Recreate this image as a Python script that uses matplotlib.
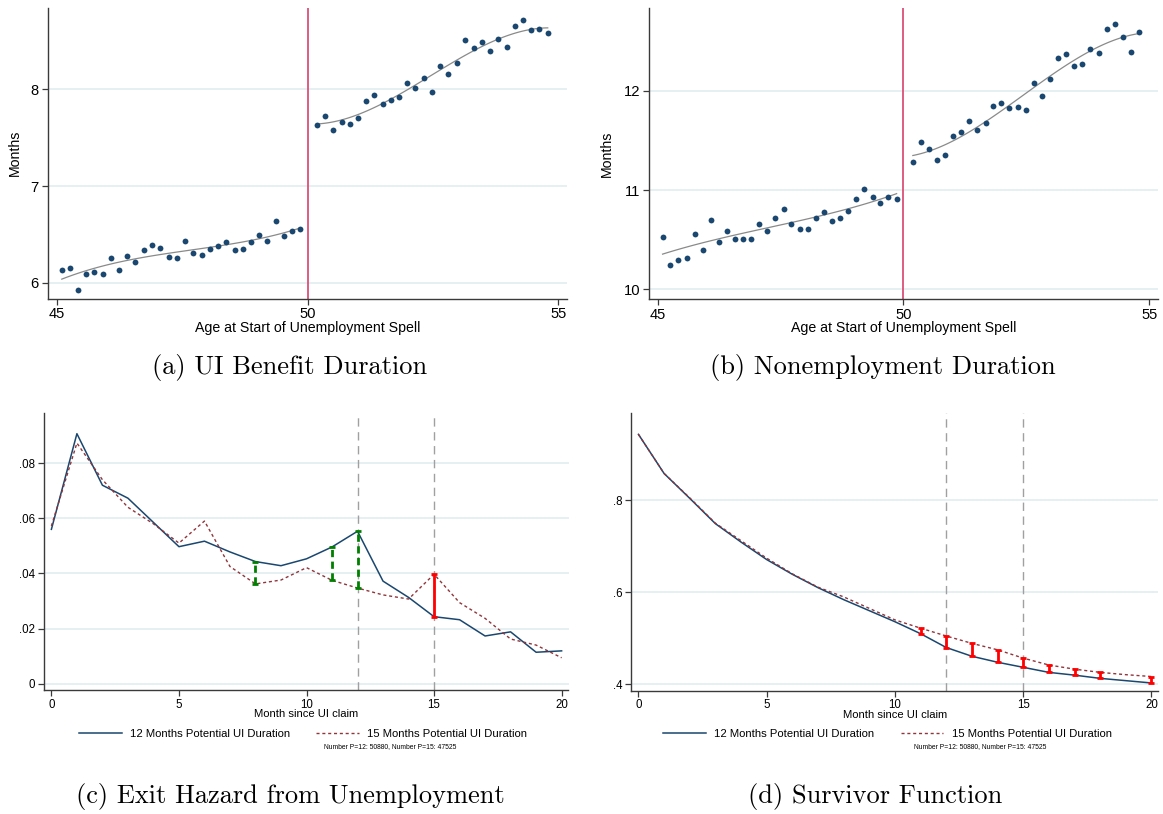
import numpy as np
import matplotlib

matplotlib.use("Agg")
import matplotlib.pyplot as plt
from matplotlib.ticker import FuncFormatter


plt.rcParams["font.family"] = ["Liberation Sans", "DejaVu Sans"]

# ---- panel (a)/(b): binned means by age at start of spell ----
age_left = [45.10, 45.26, 45.42, 45.59, 45.75, 45.92, 46.08, 46.24, 46.41, 46.57,
            46.74, 46.90, 47.06, 47.23, 47.39, 47.56, 47.72, 47.89, 48.05, 48.22,
            48.38, 48.55, 48.71, 48.87, 49.04, 49.20, 49.37, 49.53, 49.69, 49.86]
age_right = [50.19, 50.35, 50.51, 50.68, 50.85, 51.01, 51.17, 51.33, 51.50, 51.67,
             51.83, 51.99, 52.15, 52.32, 52.49, 52.65, 52.81, 52.98, 53.14, 53.31,
             53.47, 53.64, 53.80, 53.97, 54.13, 54.30, 54.46, 54.62, 54.79]

ui_left = [6.136, 6.154, 5.926, 6.088, 6.116, 6.095, 6.257, 6.130, 6.278, 6.219,
           6.336, 6.395, 6.364, 6.271, 6.260, 6.436, 6.309, 6.291, 6.350, 6.378,
           6.419, 6.340, 6.353, 6.426, 6.495, 6.436, 6.639, 6.484, 6.533, 6.553]
ui_right = [7.635, 7.728, 7.580, 7.659, 7.638, 7.700, 7.883, 7.941, 7.848, 7.893,
            7.917, 8.065, 8.014, 8.114, 7.972, 8.245, 8.155, 8.272, 8.510, 8.427,
            8.486, 8.396, 8.520, 8.441, 8.654, 8.713, 8.617, 8.623, 8.586]

nonemp_left = [10.524, 10.249, 10.292, 10.319, 10.555, 10.400, 10.696, 10.474, 10.592, 10.504,
               10.504, 10.511, 10.659, 10.592, 10.719, 10.813, 10.662, 10.605, 10.605, 10.719,
               10.776, 10.686, 10.716, 10.790, 10.911, 11.008, 10.934, 10.874, 10.928, 10.911]
nonemp_right = [11.284, 11.489, 11.412, 11.301, 11.351, 11.546, 11.590, 11.701, 11.610, 11.681,
                11.852, 11.876, 11.825, 11.842, 11.808, 12.084, 11.950, 12.124, 12.329, 12.370,
                12.249, 12.272, 12.427, 12.380, 12.622, 12.672, 12.541, 12.393, 12.595]

# ---- panel (c)/(d): by month since UI claim ----
months = list(range(21))
hazard_p12 = [0.0560, 0.0907, 0.0720, 0.0673, 0.0585, 0.0497, 0.0517, 0.0478, 0.0443, 0.0428,
              0.0453, 0.0496, 0.0553, 0.0372, 0.0313, 0.0243, 0.0232, 0.0173, 0.0188, 0.0114,
              0.0119]
hazard_p15 = [0.0572, 0.0873, 0.0740, 0.0640, 0.0580, 0.0510, 0.0590, 0.0425, 0.0362, 0.0376,
              0.0421, 0.0375, 0.0347, 0.0322, 0.0307, 0.0397, 0.0294, 0.0237, 0.0162, 0.0140,
              0.0094]
surv_p12 = [0.943, 0.858, 0.804, 0.749, 0.709, 0.671, 0.639, 0.610, 0.584, 0.560,
            0.536, 0.510, 0.480, 0.461, 0.448, 0.437, 0.426, 0.420, 0.413, 0.408,
            0.403]
surv_p15 = [0.943, 0.858, 0.805, 0.750, 0.712, 0.674, 0.640, 0.611, 0.590, 0.565,
            0.540, 0.522, 0.505, 0.489, 0.475, 0.457, 0.442, 0.433, 0.426, 0.421,
            0.417]
hazard_green_months = [8, 11, 12]
hazard_red_months = [15]
surv_bar_months = [11, 12, 13, 14, 15, 16, 17, 18, 20]
cutoff_months = [12, 15]

NAVY = "#1a476f"
MAROON = "#90353b"
GRID = "#e4eef0"
AXC = "#3a3a3a"
W, H = 1163, 814


def px_axes(fig, left, right, top, bottom):
    return fig.add_axes([left / W, 1 - bottom / H, (right - left) / W, (bottom - top) / H])


def style(ax, fs):
    for s in ["top", "right"]:
        ax.spines[s].set_visible(False)
    for s in ["left", "bottom"]:
        ax.spines[s].set_color(AXC)
        ax.spines[s].set_linewidth(1.0)
    ax.tick_params(direction="out", length=4.3, width=0.9, color=AXC, labelsize=fs, pad=2)
    ax.grid(axis="y", color=GRID, lw=1.3)
    ax.set_axisbelow(True)


def rd_panel(fig, box, xl, yl, yr, ylim, yticks, ylab_x):
    ax = px_axes(fig, *box)
    style(ax, 10.6)
    for xs, ys in [(xl, yl), (age_right, yr)]:
        xs = np.array(xs)
        coef = np.polyfit(xs, ys, 3)
        xx = np.linspace(xs.min(), xs.max(), 120)
        ax.plot(xx, np.polyval(coef, xx), color="#8a8a8a", lw=0.9, zorder=2)
        ax.plot(xs, ys, "o", color=NAVY, ms=4.2, mew=0, zorder=3)
    ax.axvline(50, color="#dc4f78", lw=1.3, zorder=1)
    ax.set_xlim(44.82, 55.18)
    ax.set_ylim(*ylim)
    ax.set_xticks([45, 50, 55])
    ax.set_yticks(yticks)
    ax.set_xlabel("Age at Start of Unemployment Spell", fontsize=10.2)
    ax.xaxis.set_label_coords(0.5, -0.075)
    ax.set_ylabel("Months", fontsize=10.2)
    ax.yaxis.set_label_coords(ylab_x, 0.5)
    return ax


def frac_fmt(dec):
    def f(v, pos):
        s = f"{v:.{dec}f}"
        if float(s) == 0:
            return "0"
        return s.lstrip("0")
    return FuncFormatter(f)


def month_panel(fig, box, ylim, yticks, dec):
    ax = px_axes(fig, *box)
    style(ax, 8.3)
    ax.set_xlim(-0.29, 20.27)
    ax.set_ylim(*ylim)
    ax.set_xticks([0, 5, 10, 15, 20])
    ax.set_yticks(yticks)
    ax.yaxis.set_major_formatter(frac_fmt(dec))
    ax.set_xlabel("Month since UI claim", fontsize=8.1)
    ax.xaxis.set_label_coords(0.5, -0.068)
    for m in cutoff_months:
        ax.axvline(m, color="#a0a0a0", lw=1.0, dashes=(6, 4), zorder=1)
    return ax


def diff_bars(ax, ms, a, b, color, dashed):
    lo = [min(a[m], b[m]) for m in ms]
    hi = [max(a[m], b[m]) for m in ms]
    if dashed:
        ax.vlines(ms, lo, hi, color=color, lw=2.0, linestyles=(0, (2.6, 1.6)), zorder=4)
    else:
        ax.vlines(ms, lo, hi, color=color, lw=2.0, zorder=4)
    ax.plot(ms, lo, "_", color=color, ms=5, mew=2.0, zorder=4)
    ax.plot(ms, hi, "_", color=color, ms=5, mew=2.0, zorder=4)


def legend_row(fig, handles, x_center):
    fig.legend(handles, ["12 Months Potential UI Duration", "15 Months Potential UI Duration"],
               loc="center", bbox_to_anchor=(x_center / W, 1 - 734 / H), ncol=2,
               frameon=False, fontsize=8.1, handlelength=3.8, handletextpad=0.75,
               columnspacing=2.3, borderpad=0, borderaxespad=0)


def main():
    fig = plt.figure(figsize=(W / 100, H / 100), dpi=100)
    fig.patch.set_facecolor("white")

    rd_panel(fig, (47.7, 567.3, 7.5, 298.7), age_left, ui_left, ui_right,
             (5.835, 8.846), [6, 7, 8], -0.05)
    rd_panel(fig, (648.8, 1158.2, 8.0, 299.0), age_left, nonemp_left, nonemp_right,
             (9.902, 12.837), [10, 11, 12], -0.068)

    # (c) exit hazard
    axc = month_panel(fig, (44.0, 568.5, 413.3, 690.0), (-0.0023, 0.0981),
                      [0, 0.02, 0.04, 0.06, 0.08], 2)
    lc1, = axc.plot(months, hazard_p12, color=NAVY, lw=1.1, zorder=3)
    lc2, = axc.plot(months, hazard_p15, color=MAROON, lw=1.0, dashes=(2.2, 2.0), zorder=3)
    diff_bars(axc, hazard_green_months, hazard_p12, hazard_p15, "#008000", True)
    diff_bars(axc, hazard_red_months, hazard_p12, hazard_p15, "#ff0000", False)

    # (d) survivor function
    axd = month_panel(fig, (631.0, 1158.4, 413.3, 690.7), (0.3862, 0.9887),
                      [0.4, 0.6, 0.8], 1)
    ld1, = axd.plot(months, surv_p12, color=NAVY, lw=1.1, zorder=3)
    ld2, = axd.plot(months, surv_p15, color=MAROON, lw=1.0, dashes=(2.2, 2.0), zorder=3)
    diff_bars(axd, surv_bar_months, surv_p12, surv_p15, "#ff0000", False)

    legend_row(fig, [lc1, lc2], 303)
    legend_row(fig, [ld1, ld2], 887.5)
    note = "Number P=12: 50880, Number P=15: 47525"
    fig.text(390 / W, 1 - 747 / H, note, fontsize=4.9, ha="center", va="center")
    fig.text(980 / W, 1 - 747 / H, note, fontsize=4.9, ha="center", va="center")

    caps = [
        ("(a) UI Benefit Duration", 290, 368),
        ("(b) Nonemployment Duration", 883, 368),
        ("(c) Exit Hazard from Unemployment", 290, 797),
        ("(d) Survivor Function", 875, 797),
    ]
    for t, x, y in caps:
        fig.text(x / W, 1 - y / H, t, fontsize=19, family="cmr10", ha="center", va="center")

    fig.savefig("out.png", dpi=100)


if __name__ == "__main__":
    main()
